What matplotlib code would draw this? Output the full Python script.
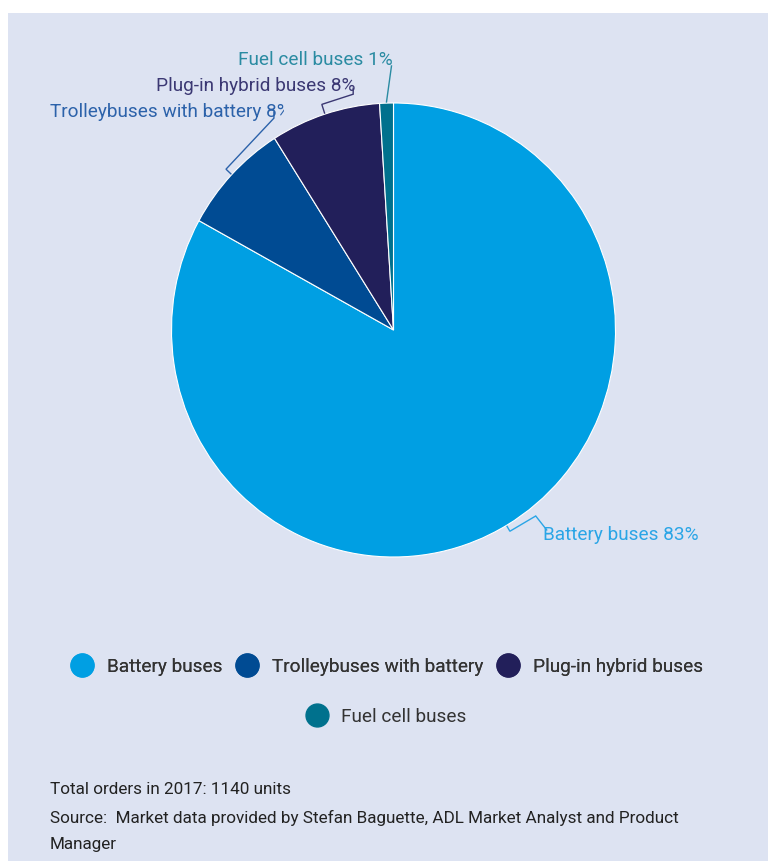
import numpy as np
import matplotlib
matplotlib.use("Agg")
import matplotlib.pyplot as plt
from matplotlib import font_manager
from matplotlib.lines import Line2D
from matplotlib.patches import Rectangle
from matplotlib.transforms import Bbox, TransformedBbox

# data
categories = ["Battery buses", "Trolleybuses with battery", "Plug-in hybrid buses", "Fuel cell buses"]
shares = [83, 8, 8, 1]
colors = ["#009FE3", "#004B93", "#221F5A", "#00718D"]
label_colors = ["#2AA5E6", "#2C62AA", "#3B3873", "#2A8BA2"]
footnotes = ["Total orders in 2017: 1140 units",
             "Source:  Market data provided by Stefan Baguette, ADL Market Analyst and Product",
             "Manager"]

names = {f.name for f in font_manager.fontManager.ttflist}
main_font = "Roboto" if "Roboto" in names else "DejaVu Sans"

W, H = 768, 861
CX, CY, RX, RY = 393.5, 330, 222, 227   # pie centre / radii in pixels

fig = plt.figure(figsize=(W / 100, H / 100), dpi=100, facecolor="white")
fig.patches.append(Rectangle((8 / W, 0), 1, 1 - 13 / H, transform=fig.transFigure,
                             facecolor="#DDE3F2", edgecolor="none", zorder=-5))

ax = fig.add_axes([0, 0, 1, 1])
ax.set_facecolor("none")


def px(x, y):
    return ((x - CX) / RX, (CY - y) / RY)


wedges, _ = ax.pie(shares, colors=colors, startangle=90, counterclock=False,
                   wedgeprops=dict(edgecolor="white", linewidth=0.8))
ax.set_xlim(px(0, 0)[0], px(W, 0)[0])
ax.set_ylim(px(0, H)[1], px(0, 0)[1])
ax.set_aspect("auto")
ax.axis("off")

# label layout: text anchor px, alignment, leader bracket (radial offset, tangent px, hook px)
layout = [
    dict(pos=(543, 535), ha="left", tan=30, off=0.025, hook=(11, 14)),
    dict(pos=(50, 112), ha="left", tan=-70, off=0.03, hook=(0, -6), clip=284),
    dict(pos=(356, 86), ha="right", tan=-33, off=0.04, hook=(0, -6)),
    dict(pos=(393, 60), ha="right", tan=0, off=0.0, hook=(5, -36)),
]

scale = np.array([RX, RY])
for w, name, val, lc, lay in zip(wedges, categories, shares, label_colors, layout):
    mid = np.deg2rad((w.theta1 + w.theta2) / 2)
    radial = np.array([np.cos(mid), np.sin(mid)])
    tangent = np.array([-np.sin(mid), np.cos(mid)])  # counter-clockwise
    p0 = radial * 1.005
    p1 = radial * (1.005 + lay["off"])
    p2 = p1 + tangent * lay["tan"] / scale
    p3 = p2 + np.array([lay["hook"][0], -lay["hook"][1]]) / scale
    pts = np.array([p0, p1, p2, p3])
    ax.plot(pts[:, 0], pts[:, 1], color=lc, lw=1.0, solid_joinstyle="miter")
    tx, ty = px(*lay["pos"])
    t = ax.text(tx, ty, f"{name} {val}%", ha=lay["ha"], va="center", color=lc,
                fontsize=13.7, family=main_font)
    if "clip" in lay:
        x0, y0 = px(0, lay["pos"][1] + 20)
        x1, y1 = px(lay["clip"], lay["pos"][1] - 20)
        t.set_clip_box(TransformedBbox(Bbox([[x0, y0], [x1, y1]]), ax.transData))
        t.set_clip_on(True)

# legend
handles = [Line2D([], [], marker="o", linestyle="none", markersize=16.5,
                  markerfacecolor=c, markeredgecolor=c) for c in colors]
leg1 = fig.legend(handles[:3], categories[:3], loc="center", ncol=3,
                  bbox_to_anchor=(388 / W, 1 - 667 / H), frameon=False,
                  prop=dict(family=main_font, size=13.7), labelcolor="#333333",
                  handlelength=1.0, handletextpad=0.8, columnspacing=0.8)
fig.add_artist(leg1)
fig.legend(handles[3:], categories[3:], loc="center",
           bbox_to_anchor=(387 / W, 1 - 717 / H), frameon=False,
           prop=dict(family=main_font, size=13.7), labelcolor="#333333",
           handlelength=1.0, handletextpad=0.8)

for i, line in enumerate(footnotes):
    fig.text(50 / W, 1 - (790 + i * 27.5) / H, line, ha="left", va="center",
             fontsize=12.3, color="#222222", family=main_font)

fig.savefig("out.png", dpi=100, facecolor=fig.get_facecolor())
